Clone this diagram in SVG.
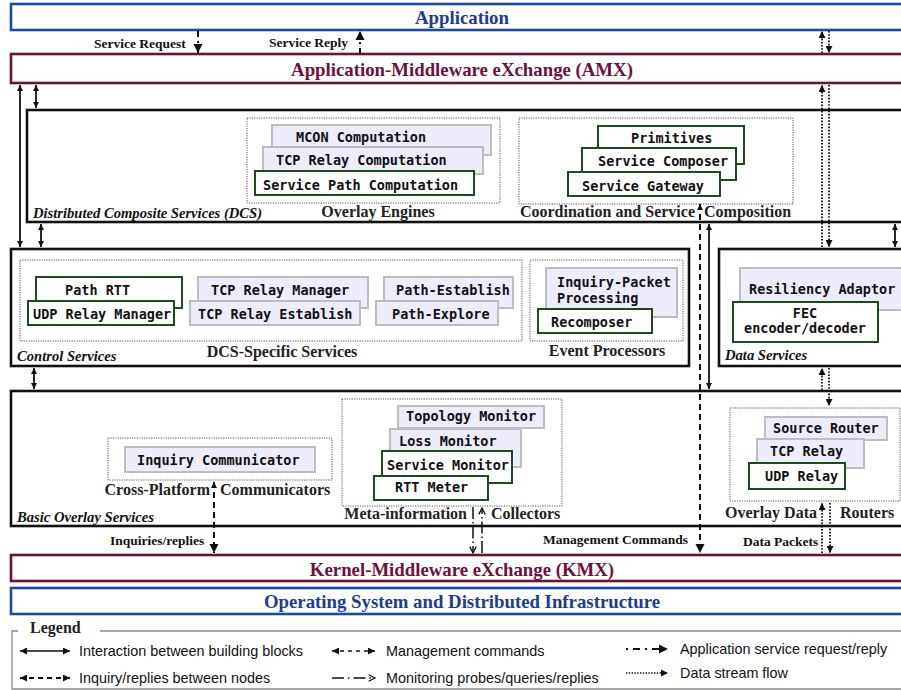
<svg xmlns="http://www.w3.org/2000/svg" width="901" height="690" viewBox="0 0 901 690">
  <style>
    .hdr { font-family: "Liberation Serif", "Times New Roman", serif; font-weight: bold; font-size: 18.8px; text-anchor: middle; }
    .blue { fill: none; stroke: #1c4aa3; stroke-width: 2.6; }
    .maroon { fill: none; stroke: #6b0f3b; stroke-width: 2.6; }
    .blk { fill: #fff; stroke: #111; stroke-width: 2.6; }
    .dot { fill: none; stroke: #555; stroke-width: 1; stroke-dasharray: 1.2 1.2; }
    .lav { fill: #ececfb; stroke: #bdbdbd; stroke-width: 2; }
    .grn { fill: #fff; stroke: #1d4a1d; stroke-width: 2; }
    .mono { font-family: "DejaVu Sans Mono", monospace; font-weight: bold; font-size: 13.5px; fill: #111; }
    .lbl { font-family: "Liberation Serif", "Times New Roman", serif; font-weight: bold; font-size: 16px; fill: #222; }
    .cl { font-family: "Liberation Serif", "Times New Roman", serif; font-weight: bold; font-size: 13.5px; fill: #111; }
    .it { font-family: "Liberation Serif", "Times New Roman", serif; font-style: italic; font-weight: bold; font-size: 14.6px; fill: #111; }
    .leg { font-family: "Liberation Sans", Arial, sans-serif; font-size: 14.4px; fill: #111; }
    .solid { fill: none; stroke: #111; stroke-width: 1.8; }
    .dash { fill: none; stroke: #111; stroke-width: 2; stroke-dasharray: 6 4; }
    .dashdot { fill: none; stroke: #111; stroke-width: 2; stroke-dasharray: 6 4 2 4; }
    .dots { fill: none; stroke: #111; stroke-width: 1.8; stroke-dasharray: 1.6 1.6; }
    .mon { fill: none; stroke: #111; stroke-width: 1.5; stroke-dasharray: 12 3 1.5 3; }
  </style>
  <defs>
    <marker id="hs" viewBox="0 0 10 10" refX="10" refY="5" markerWidth="7" markerHeight="6" markerUnits="userSpaceOnUse" orient="auto-start-reverse">
      <path d="M0,0 L10,5 L0,10 z" fill="#111"/>
    </marker>
    <marker id="hb" viewBox="0 0 10 10" refX="10" refY="5" markerWidth="9" markerHeight="10" markerUnits="userSpaceOnUse" orient="auto-start-reverse">
      <path d="M0,0 L10,5 L0,10 z" fill="#111"/>
    </marker>
    <marker id="hd" viewBox="0 0 10 10" refX="10" refY="5" markerWidth="7" markerHeight="7" markerUnits="userSpaceOnUse" orient="auto-start-reverse">
      <path d="M0,0 L10,5 L0,10 z" fill="#111"/>
    </marker>
    <marker id="ho" viewBox="0 0 10 10" refX="9" refY="5" markerWidth="8" markerHeight="9" markerUnits="userSpaceOnUse" orient="auto-start-reverse">
      <path d="M1,1 L9,5 L1,9" fill="none" stroke="#111" stroke-width="1.6"/>
    </marker>
  </defs>

  <!-- layer bands -->
  <g id="application">
    <rect class="blue" x="11" y="4" width="894" height="26"/>
    <text class="hdr" x="462" y="24" fill="#1a3c96">Application</text>
  </g>
  <g id="amx">
    <rect class="maroon" x="11" y="54" width="894" height="29"/>
    <text class="hdr" x="462" y="76" fill="#6e1040">Application-Middleware eXchange (AMX)</text>
  </g>

  <!-- Distributed Composite Services -->
  <g id="dcs">
    <rect class="blk" x="27" y="110" width="878" height="112"/>
    <text class="it" x="33" y="218" font-size="15">Distributed Composite Services (DCS)</text>
  </g>
  <g id="overlay-engines">
    <rect class="dot" x="247" y="118" width="253" height="85"/>
    <rect class="lav" x="272" y="125" width="219" height="30"/>
    <text class="mono" x="296" y="142">MCON Computation</text>
    <rect class="lav" x="263" y="147" width="220" height="27"/>
    <text class="mono" x="276" y="165">TCP Relay Computation</text>
    <rect class="grn" x="255" y="171" width="219" height="24"/>
    <text class="mono" x="263" y="189.5">Service Path Computation</text>
    <text class="lbl" x="378" y="217" text-anchor="middle">Overlay Engines</text>
  </g>
  <g id="coordination">
    <rect class="dot" x="519" y="118" width="274" height="86"/>
    <rect class="grn" x="598" y="126" width="146" height="38"/>
    <text class="mono" x="631" y="143">Primitives</text>
    <rect class="grn" x="582" y="148" width="154" height="32"/>
    <text class="mono" x="598" y="166">Service Composer</text>
    <rect class="grn" x="568" y="172" width="152" height="24"/>
    <text class="mono" x="582" y="190.5">Service Gateway</text>
    <text class="lbl" x="695" y="217" text-anchor="end">Coordination and Service</text>
    <text class="lbl" x="704" y="217">Composition</text>
  </g>

  <!-- Control Services -->
  <g id="control">
    <rect class="blk" x="11" y="249" width="678" height="117"/>
    <text class="it" x="17" y="361">Control Services</text>
  </g>
  <g id="dcs-specific">
    <rect class="dot" x="20" y="260" width="502" height="81"/>
    <rect class="grn" x="36" y="277" width="146" height="31"/>
    <text class="mono" x="65" y="295">Path RTT</text>
    <rect class="grn" x="28" y="301" width="146" height="24"/>
    <text class="mono" x="33" y="319">UDP Relay Manager</text>
    <rect class="lav" x="198" y="277" width="170" height="31"/>
    <text class="mono" x="211" y="295">TCP Relay Manager</text>
    <rect class="lav" x="190" y="301" width="170" height="24"/>
    <text class="mono" x="198" y="319">TCP Relay Establish</text>
    <rect class="lav" x="384" y="277" width="129" height="31"/>
    <text class="mono" x="396" y="295">Path-Establish</text>
    <rect class="lav" x="376" y="301" width="122" height="24"/>
    <text class="mono" x="392" y="319">Path-Explore</text>
    <text class="lbl" x="282" y="357" text-anchor="middle">DCS-Specific Services</text>
  </g>
  <g id="event-processors">
    <rect class="dot" x="530" y="260" width="153" height="81"/>
    <rect class="lav" x="546" y="268" width="131" height="49"/>
    <text class="mono" x="557" y="286.5">Inquiry-Packet</text>
    <text class="mono" x="557" y="302.5">Processing</text>
    <rect class="grn" x="538" y="309" width="114" height="24"/>
    <text class="mono" x="551" y="327">Recomposer</text>
    <text class="lbl" x="607" y="356" text-anchor="middle">Event Processors</text>
  </g>

  <!-- Data Services -->
  <g id="data-services">
    <rect class="blk" x="719" y="249" width="186" height="117"/>
    <rect class="lav" x="740" y="268" width="165" height="42"/>
    <text class="mono" x="749" y="294">Resiliency Adaptor</text>
    <rect class="grn" x="733" y="302" width="145" height="40"/>
    <text class="mono" x="805" y="318" text-anchor="middle">FEC</text>
    <text class="mono" x="805" y="333" text-anchor="middle">encoder/decoder</text>
    <text class="it" x="725" y="360" font-weight="normal" font-size="13">Data Services</text>
  </g>

  <!-- Basic Overlay Services -->
  <g id="basic-overlay">
    <rect class="blk" x="11" y="391" width="894" height="135"/>
    <text class="it" x="17" y="522">Basic Overlay Services</text>
  </g>
  <g id="cross-platform">
    <rect class="dot" x="108" y="438" width="224" height="42"/>
    <rect class="lav" x="125" y="447" width="190" height="25"/>
    <text class="mono" x="137" y="464.5">Inquiry Communicator</text>
    <text class="lbl" x="210" y="495" text-anchor="end">Cross-Platform</text>
    <text class="lbl" x="220" y="495">Communicators</text>
  </g>
  <g id="meta-information">
    <rect class="dot" x="342" y="399" width="220" height="107"/>
    <rect class="lav" x="398" y="406" width="146" height="22"/>
    <text class="mono" x="406" y="420.5">Topology Monitor</text>
    <rect class="lav" x="390" y="429" width="131" height="38"/>
    <text class="mono" x="399" y="445.5">Loss Monitor</text>
    <rect class="grn" x="382" y="451" width="130" height="32"/>
    <text class="mono" x="387" y="469.5">Service Monitor</text>
    <rect class="grn" x="374" y="476" width="114" height="24"/>
    <text class="mono" x="395" y="492">RTT Meter</text>
    <text class="lbl" x="467" y="518.5" text-anchor="end">Meta-information</text>
    <text class="lbl" x="491" y="518.5">Collectors</text>
  </g>
  <g id="overlay-data-routers">
    <rect class="dot" x="730" y="408" width="170" height="93"/>
    <rect class="lav" x="765" y="417" width="122" height="23"/>
    <text class="mono" x="773" y="433">Source Router</text>
    <rect class="lav" x="757" y="439" width="107" height="29"/>
    <text class="mono" x="770" y="456">TCP Relay</text>
    <rect class="grn" x="749" y="463" width="96" height="26"/>
    <text class="mono" x="765" y="480.5">UDP Relay</text>
    <text class="lbl" x="817" y="518" text-anchor="end">Overlay Data</text>
    <text class="lbl" x="840" y="518">Routers</text>
  </g>

  <g id="kmx">
    <rect class="maroon" x="11" y="555" width="894" height="26"/>
    <text class="hdr" x="462" y="576" fill="#6e1040">Kernel-Middleware eXchange (KMX)</text>
  </g>
  <g id="os">
    <rect class="blue" x="11" y="588" width="894" height="26"/>
    <text class="hdr" x="462" y="608" fill="#1a3c96">Operating System and Distributed Infrastructure</text>
  </g>

  <!-- connectors -->
  <g id="connectors">
    <line class="dashdot" x1="198" y1="31" x2="198" y2="53" marker-end="url(#hb)"/>
    <text class="cl" x="94" y="48">Service Request</text>
    <line class="dashdot" x1="360" y1="54" x2="360" y2="31" marker-end="url(#hb)"/>
    <text class="cl" x="269" y="47">Service Reply</text>
    <line class="dots" x1="822" y1="53" x2="822" y2="31" marker-end="url(#hd)"/>
    <line class="dots" x1="829" y1="31" x2="829" y2="53" marker-end="url(#hd)"/>
    <line class="dots" x1="822" y1="247" x2="822" y2="85" marker-end="url(#hd)"/>
    <line class="dots" x1="829" y1="85" x2="829" y2="247" marker-end="url(#hd)"/>

    <line class="solid" x1="20" y1="85" x2="20" y2="247" marker-start="url(#hs)" marker-end="url(#hs)"/>
    <line class="solid" x1="36" y1="85" x2="36" y2="108" marker-start="url(#hs)" marker-end="url(#hs)"/>
    <line class="solid" x1="41" y1="224" x2="41" y2="247" marker-start="url(#hs)" marker-end="url(#hs)"/>
    <line class="solid" x1="34" y1="368" x2="34" y2="389" marker-start="url(#hs)" marker-end="url(#hs)"/>
    <line class="solid" x1="895" y1="224" x2="895" y2="247" marker-start="url(#hs)" marker-end="url(#hs)"/>
    <line class="solid" x1="709" y1="224" x2="709" y2="389" marker-start="url(#hs)" marker-end="url(#hs)"/>

    <line class="dash" x1="700" y1="204" x2="700" y2="553" marker-start="url(#hs)" marker-end="url(#hb)"/>
    <text class="cl" x="543" y="543.5">Management Commands</text>

    <line class="dots" x1="822" y1="390" x2="822" y2="368" marker-end="url(#hd)"/>
    <line class="dots" x1="829" y1="368" x2="829" y2="406" marker-end="url(#hd)"/>

    <line class="dash" x1="214" y1="482" x2="214" y2="553" marker-start="url(#hs)" marker-end="url(#hb)"/>
    <text class="cl" x="110" y="545">Inquiries/replies</text>

    <line class="mon" x1="473" y1="507" x2="473" y2="553" marker-end="url(#ho)"/>
    <line class="mon" x1="482" y1="553" x2="482" y2="508" marker-end="url(#ho)"/>

    <line class="dots" x1="822" y1="553" x2="822" y2="503" marker-end="url(#hd)"/>
    <line class="dots" x1="830" y1="503" x2="830" y2="553" marker-end="url(#hd)"/>
    <text class="cl" x="743" y="545.5">Data Packets</text>
  </g>

  <!-- legend -->
  <g id="legend">
    <path d="M18,631 H12 V689 H905 M100,631 H905" fill="none" stroke="#8a8a8a" stroke-width="1.3"/>
    <text class="lbl" x="30" y="633" font-size="16.5" fill="#111">Legend</text>
    <line x1="20" y1="651" x2="70" y2="651" stroke="#111" stroke-width="1.3" marker-start="url(#hd)" marker-end="url(#hd)"/>
    <text class="leg" x="79" y="656">Interaction between building blocks</text>
    <line x1="20" y1="678" x2="70" y2="678" stroke="#111" stroke-width="1.8" stroke-dasharray="5 4" marker-start="url(#hd)" marker-end="url(#hd)"/>
    <text class="leg" x="79" y="683">Inquiry/replies between nodes</text>
    <line x1="332" y1="651" x2="375" y2="651" stroke="#111" stroke-width="1.5" stroke-dasharray="4 4" marker-start="url(#hd)" marker-end="url(#hd)"/>
    <text class="leg" x="386" y="656">Management commands</text>
    <line x1="332" y1="678" x2="375" y2="678" stroke="#111" stroke-width="1.4" stroke-dasharray="12 4 1.5 4" marker-end="url(#ho)"/>
    <text class="leg" x="386" y="683">Monitoring probes/queries/replies</text>
    <line x1="626" y1="649" x2="668" y2="649" stroke="#111" stroke-width="1.8" stroke-dasharray="2 5 7 5" marker-end="url(#hb)"/>
    <text class="leg" x="680" y="654">Application service request/reply</text>
    <line x1="626" y1="673" x2="668" y2="673" stroke="#111" stroke-width="1.5" stroke-dasharray="1.4 1.4" marker-end="url(#hd)"/>
    <text class="leg" x="680" y="678">Data stream flow</text>
  </g>
</svg>
